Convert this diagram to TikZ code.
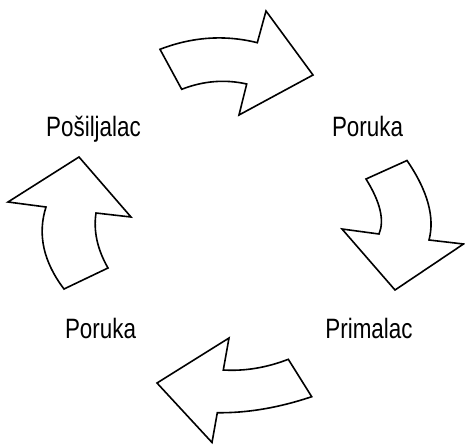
\documentclass[tikz,border=0pt]{standalone}
\usepackage{fontspec}
\setmainfont{Liberation Sans}[FakeStretch=0.8]
\begin{document}
\begin{tikzpicture}[x=1pt,y=-1pt,
  cyclearrow/.style={draw=black,line width=1.6pt,line join=miter,fill=white},
  lbl/.style={inner sep=0pt,anchor=base,font=\fontsize{28}{30}\selectfont}]
\useasboundingbox (0,0) rectangle (465,444);
% top arrow
\draw[cyclearrow] (160,49.3) .. controls (192.5,36.8) and (224.9,34.6) .. (257.3,42.7)
  -- (266,11) -- (313,75) -- (239,115) -- (246.7,84)
  .. controls (224.9,79.1) and (203.2,80.9) .. (181.7,89.3) -- cycle;
% right arrow
\draw[cyclearrow] (366,179) .. controls (380.3,202) and (384.7,220.3) .. (379,234)
  -- (342,229) -- (395,290) -- (463.5,244) -- (429,240)
  .. controls (435,217.3) and (427.7,190.8) .. (407,160.5) -- cycle;
% bottom arrow
\draw[cyclearrow] (288.3,359.3) .. controls (266.5,367.7) and (244.8,371.3) .. (223.3,370)
  -- (229,338) -- (157,383) -- (212,442.5) -- (217.3,412.7)
  .. controls (247.1,413.1) and (278.6,407.8) .. (311.7,396.7) -- cycle;
% left arrow
\draw[cyclearrow] (64,289) .. controls (43.3,261.7) and (37.3,234.3) .. (46,207)
  -- (8,202) -- (79,157) -- (131,217) -- (96,213)
  .. controls (93.3,231) and (97.3,249.3) .. (108,268) -- cycle;
\node[lbl] (sender) at (93.5,136) {Pošiljalac};
\node[lbl] (msg1) at (367.5,136.5) {Poruka};
\node[lbl] (receiver) at (369,338.5) {Primalac};
\node[lbl] (msg2) at (100.5,338.5) {Poruka};
\end{tikzpicture}
\end{document}
